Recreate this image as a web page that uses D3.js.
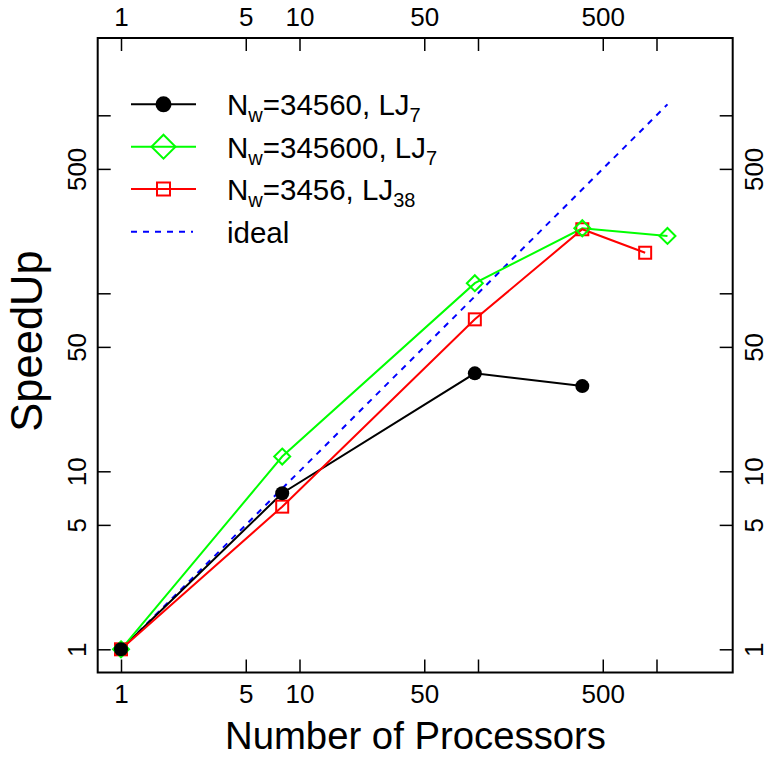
<!DOCTYPE html>
<html>
<head>
<meta charset="utf-8">
<script src="https://cdn.jsdelivr.net/npm/d3@7"></script>
<style>
  html, body { margin: 0; padding: 0; background: #fff; }
  svg text { font-family: "Liberation Sans", Arial, Helvetica, sans-serif; fill: #000; }
</style>
</head>
<body>
<svg id="chart" width="768" height="757"></svg>
<script>
// ---- data ----
const procsBlack = [1, 8, 96, 384];
const speedBlack = [1, 7.53, 35.5, 30.1];
const procsGreen = [1, 8, 96, 384, 1152];
const speedGreen = [1, 12.1, 114, 232, 210];
const procsRed = [1, 8, 96, 384, 864];
const speedRed = [1, 6.33, 71.4, 229, 169];
const procsIdeal = [1, 1152];
const speedIdeal = [1, 1152];
const tickValues = [1, 5, 10, 50, 100, 500, 1000];
const tickLabels = [1, 5, 10, 50, 500];
const xTitle = "Number of Processors";
const yTitle = "SpeedUp";

// ---- layout ----
const box = { left: 97.7, right: 732.7, top: 38, bottom: 672.5 };
const svg = d3.select("#chart");

const x = d3.scaleLog().domain([1, 1000]).range([121, 656.5]);
const y = d3.scaleLog().domain([1, 1000]).range([649.3, 115.3]);

const fmt = d => tickLabels.includes(d) ? String(d) : "";
const tickLen = 13, pad = 12, tickFont = 26;

const gB = svg.append("g").attr("transform", `translate(0,${box.bottom})`)
  .call(d3.axisBottom(x).tickValues(tickValues).tickFormat(fmt).tickSizeInner(-tickLen).tickSizeOuter(0).tickPadding(pad));
const gT = svg.append("g").attr("transform", `translate(0,${box.top})`)
  .call(d3.axisTop(x).tickValues(tickValues).tickFormat(fmt).tickSizeInner(-tickLen).tickSizeOuter(0).tickPadding(pad));
const gL = svg.append("g").attr("transform", `translate(${box.left},0)`)
  .call(d3.axisLeft(y).tickValues(tickValues).tickFormat(fmt).tickSizeInner(-tickLen).tickSizeOuter(0).tickPadding(pad));
const gR = svg.append("g").attr("transform", `translate(${box.right},0)`)
  .call(d3.axisRight(y).tickValues(tickValues).tickFormat(fmt).tickSizeInner(-tickLen).tickSizeOuter(0).tickPadding(pad));

[gB, gT, gL, gR].forEach(g => {
  g.select(".domain").remove();
  g.selectAll(".tick line").attr("stroke", "#000").attr("stroke-width", 1.5);
  g.selectAll(".tick text").style("font-size", tickFont + "px")
    .style("font-family", '"Liberation Sans", Arial, Helvetica, sans-serif');
});
gL.selectAll(".tick text")
  .attr("x", null).attr("dy", null)
  .attr("text-anchor", "middle")
  .attr("transform", `translate(${-pad},0) rotate(-90)`);
gR.selectAll(".tick text")
  .attr("x", null).attr("dy", null)
  .attr("text-anchor", "middle")
  .attr("transform", `translate(${pad},0) rotate(-90) translate(0,${tickFont*0.72})`);

svg.append("rect")
  .attr("x", box.left).attr("y", box.top)
  .attr("width", box.right - box.left).attr("height", box.bottom - box.top)
  .attr("fill", "none").attr("stroke", "#000").attr("stroke-width", 2);

// axis titles
svg.append("text").attr("x", 415.5).attr("y", 749)
  .attr("text-anchor", "middle").style("font-size", "39px")
  .attr("textLength", 381).attr("lengthAdjust", "spacingAndGlyphs").text(xTitle);
svg.append("text").attr("transform", `translate(42,341) rotate(-90)`)
  .attr("text-anchor", "middle").style("font-size", "43.5px").text(yTitle);

// ---- series ----
const line = d3.line().x(d => x(d[0])).y(d => y(d[1]));
const zip = (a, b) => a.map((v, i) => [v, b[i]]);

const dIdeal = zip(procsIdeal, speedIdeal);
const dBlack = zip(procsBlack, speedBlack);
const dGreen = zip(procsGreen, speedGreen);
const dRed = zip(procsRed, speedRed);

svg.append("path").datum(dIdeal).attr("d", line)
  .attr("fill", "none").attr("stroke", "#0000ff").attr("stroke-width", 2).attr("stroke-dasharray", "6,6");
svg.append("path").datum(dBlack).attr("d", line)
  .attr("fill", "none").attr("stroke", "#000").attr("stroke-width", 2);
svg.append("path").datum(dGreen).attr("d", line)
  .attr("fill", "none").attr("stroke", "#00ff00").attr("stroke-width", 2);
svg.append("path").datum(dRed).attr("d", line)
  .attr("fill", "none").attr("stroke", "#ff0000").attr("stroke-width", 2);

function circleMark(g, cx, cy, r) {
  g.append("circle").attr("cx", cx).attr("cy", cy).attr("r", r).attr("fill", "#000");
}
function diamondMark(g, cx, cy, h) {
  g.append("path").attr("d", `M${cx},${cy-h}L${cx+h},${cy}L${cx},${cy+h}L${cx-h},${cy}Z`)
    .attr("fill", "none").attr("stroke", "#00ff00").attr("stroke-width", 2);
}
function squareMark(g, cx, cy, h) {
  g.append("rect").attr("x", cx - h).attr("y", cy - h).attr("width", 2*h).attr("height", 2*h)
    .attr("fill", "none").attr("stroke", "#ff0000").attr("stroke-width", 2);
}

const gm = svg.append("g");
dRed.forEach(d => squareMark(gm, x(d[0]), y(d[1]), 6));
dGreen.forEach(d => diamondMark(gm, x(d[0]), y(d[1]), 8));
dBlack.forEach(d => circleMark(gm, x(d[0]), y(d[1]), 7));

// ---- legend ----
const legend = [
  { main: "N", sub1: "w", mid: "=34560, LJ", sub2: "7", color: "#000", mark: "circle" },
  { main: "N", sub1: "w", mid: "=345600, LJ", sub2: "7", color: "#00ff00", mark: "diamond" },
  { main: "N", sub1: "w", mid: "=3456, LJ", sub2: "38", color: "#ff0000", mark: "square" },
  { main: "ideal", color: "#0000ff", mark: "dash" }
];
const lg = svg.append("g");
const rowY = [104.3, 146.7, 189, 231.7];
legend.forEach((L, i) => {
  const yy = rowY[i];
  const l = lg.append("line").attr("x1", 131).attr("x2", 196).attr("y1", yy).attr("y2", yy)
    .attr("stroke", L.color).attr("stroke-width", 2);
  if (L.mark === "dash") l.attr("stroke-dasharray", "6,6").attr("x1", 131).attr("x2", 193);
  if (L.mark === "circle") circleMark(lg, 163.5, yy, 8);
  if (L.mark === "diamond") diamondMark(lg, 163.5, yy, 12);
  if (L.mark === "square") squareMark(lg, 163.5, yy, 6.5);
  const t = lg.append("text").attr("x", 227).attr("y", yy + 11).style("font-size", "29.5px");
  if (L.sub1) {
    t.append("tspan").text(L.main);
    t.append("tspan").attr("dy", 7).style("font-size", "20px").text(L.sub1);
    t.append("tspan").attr("dy", -7).text(L.mid);
    t.append("tspan").attr("dy", 7).style("font-size", "20px").text(L.sub2);
  } else {
    t.text(L.main);
  }
});
</script>
</body>
</html>
